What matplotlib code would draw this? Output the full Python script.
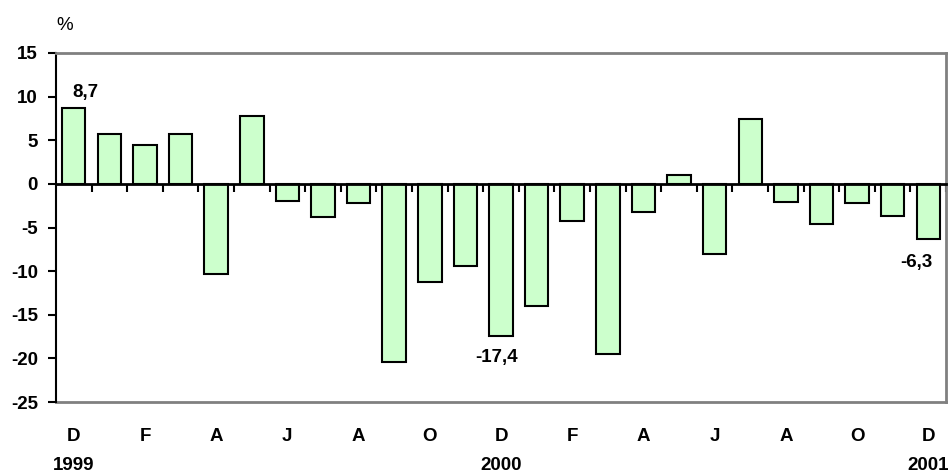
import matplotlib
matplotlib.use("Agg")
import matplotlib.pyplot as plt
import numpy as np

plt.rcParams['font.family'] = ['Liberation Sans', 'DejaVu Sans']

months = ["D", "J", "F", "M", "A", "M", "J", "J", "A", "S", "O", "N",
          "D", "J", "F", "M", "A", "M", "J", "J", "A", "S", "O", "N", "D"]
values = [8.7, 5.7, 4.4, 5.7, -10.3, 7.8, -2.0, -3.8, -2.2, -20.4, -11.2, -9.4,
          -17.4, -14.0, -4.3, -19.5, -3.2, 1.0, -8.0, 7.4, -2.1, -4.6, -2.2, -3.7, -6.3]
years = {0: "1999", 12: "2000", 24: "2001"}
value_labels = {0: "8,7", 12: "-17,4", 24: "-6,3"}
yticks = [-25, -20, -15, -10, -5, 0, 5, 10, 15]

FS = 13.5

fig = plt.figure(figsize=(9.48, 4.73), dpi=100)
ax = fig.add_axes([0.059, 0.150, 0.939, 0.738])

x = np.arange(len(values))
ax.bar(x, values, width=0.66, color="#CCFFCC", edgecolor="black", linewidth=1.5, zorder=3)

ax.set_xlim(-0.5, len(values) - 0.5)
ax.set_ylim(-25, 15)

# zero line as bottom spine with boundary ticks
ax.spines['bottom'].set_position(('data', 0))
ax.spines['bottom'].set_color('black')
ax.spines['bottom'].set_linewidth(2)
ax.spines['bottom'].set_zorder(4)
ax.set_xticks(x + 0.5)
ax.tick_params(axis='x', direction='out', length=6, width=1.5, color='black', labelbottom=False)

ax.spines['left'].set_color('black')
ax.spines['left'].set_linewidth(1.5)
for s in ('top', 'right'):
    ax.spines[s].set_color('#808080')
    ax.spines[s].set_linewidth(2)

ax.set_yticks(yticks)
ax.set_yticklabels([str(v) for v in yticks], fontweight='bold', fontsize=FS)
ax.tick_params(axis='y', direction='out', length=6, width=1.5, pad=7)

# bottom frame with month labels
sec = ax.secondary_xaxis(0.0)
sec.spines['bottom'].set_color('#808080')
sec.spines['bottom'].set_linewidth(2)
sec.set_xticks(x[::2])
sec.set_xticklabels(months[::2], fontweight='bold', fontsize=FS)
sec.tick_params(axis='x', length=0, pad=19)

for i, yr in years.items():
    ax.text(i, -0.181, yr, transform=ax.get_xaxis_transform(), ha='center', va='center',
            fontweight='bold', fontsize=FS)

offsets = {0: (12, 15), 12: (-4, -22), 24: (-12, -24)}
for i, txt in value_labels.items():
    dx, dy = offsets[i]
    ax.annotate(txt, (x[i], values[i]), xytext=(dx, dy), textcoords='offset pixels',
                ha='center', va='center', fontweight='bold', fontsize=FS)

fig.text(65 / 948, 1 - 25 / 473, "%", ha='center', va='center', fontsize=FS)

fig.savefig("out.png", dpi=100)
